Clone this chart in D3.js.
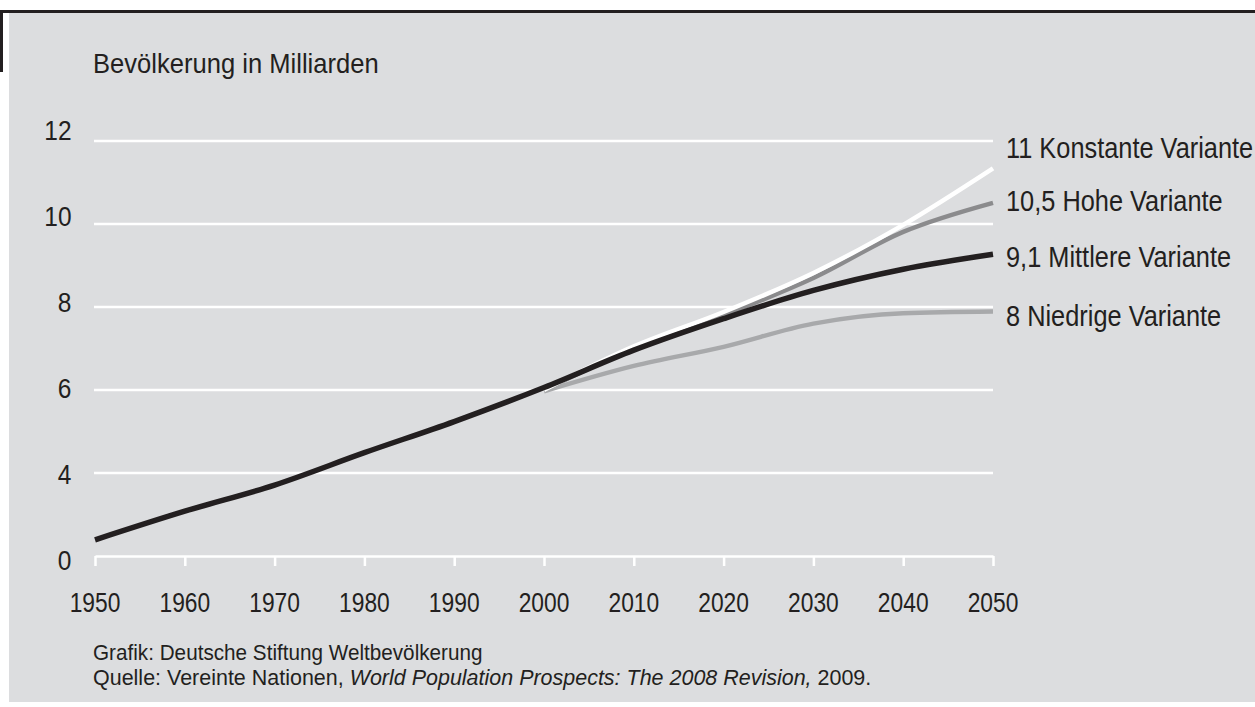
<!DOCTYPE html>
<html>
<head>
<meta charset="utf-8">
<script src="https://cdn.jsdelivr.net/npm/d3@7/dist/d3.min.js"></script>
<style>
  html, body { margin: 0; padding: 0; background: #fff; }
  svg { display: block; }
  text { font-family: "Liberation Sans", Arial, sans-serif; fill: #231f20; }
</style>
</head>
<body>
<svg id="chart" width="1255" height="707"></svg>
<script>
// ---- data ----
const histYears = [1950, 1960, 1970, 1980, 1990, 2000, 2010, 2020, 2030, 2040, 2050];
const mittlere  = [2.39, 3.08, 3.71, 4.49, 5.24, 6.06, 6.96, 7.72, 8.40, 8.91, 9.27];
const projYears = [2000, 2010, 2020, 2030, 2040, 2050];
const konstante = [6.00, 7.05, 7.88, 8.82, 9.98, 11.34];
const hohe      = [6.00, 7.00, 7.80, 8.70, 9.81, 10.51];
const niedrige  = [5.97, 6.58, 7.04, 7.60, 7.85, 7.89];
const seriesNames = ["11 Konstante Variante", "10,5 Hohe Variante", "9,1 Mittlere Variante", "8 Niedrige Variante"];
const xTicks = [1950, 1960, 1970, 1980, 1990, 2000, 2010, 2020, 2030, 2040, 2050];
const yTickValues = [2, 4, 6, 8, 10, 12];
const yTickLabels = ["0", "4", "6", "8", "10", "12"];
const yTitle = "Bevölkerung in Milliarden";
const credit = "Grafik: Deutsche Stiftung Weltbevölkerung";
const sourcePre = "Quelle: Vereinte Nationen, ";
const sourceItalic = "World Population Prospects: The 2008 Revision,";
const sourcePost = " 2009.";

// ---- layout ----
const W = 1255, H = 707;
const dark = "#231f20";
const svg = d3.select("#chart");

svg.append("rect").attr("width", W).attr("height", H).attr("fill", "#fff");
svg.append("rect").attr("x", 9).attr("y", 13).attr("width", W - 9).attr("height", 689).attr("fill", "#dcdddf");
svg.append("rect").attr("x", 0).attr("y", 10).attr("width", W).attr("height", 3).attr("fill", dark);
svg.append("rect").attr("x", 0).attr("y", 10).attr("width", 3).attr("height", 62).attr("fill", dark);

const x = d3.scaleLinear().domain([1950, 2050]).range([95, 993]);
const y = d3.scaleLinear().domain([2, 12]).range([556, 141]);
// label positions of the printed y tick labels (slightly different spacing in original)
const yLab = d3.scaleLinear().domain([2, 12]).range([570, 140]);

function label(parent, px, py, str, size, sx, anchor) {
  return parent.append("text")
    .attr("transform", `translate(${px},${py}) scale(${sx},1)`)
    .attr("text-anchor", anchor || "start")
    .attr("font-size", size)
    .text(str);
}

// gridlines
const gridVals = yTickValues.filter(v => v > 2);
svg.append("g").selectAll("line").data(gridVals).join("line")
  .attr("x1", 94).attr("x2", 993)
  .attr("y1", d => y(d)).attr("y2", d => y(d))
  .attr("stroke", "#fff").attr("stroke-width", 2.5);

// x axis
const xAxis = svg.append("g").attr("transform", `translate(0,${y(2)})`)
  .call(d3.axisBottom(x).tickValues(xTicks).tickSize(10).tickSizeOuter(0).tickFormat(""));
xAxis.select(".domain").attr("stroke", "#fff").attr("stroke-width", 2.5);
xAxis.selectAll(".tick line").attr("stroke", "#fff").attr("stroke-width", 2.5);

// x labels
const xl = svg.append("g");
xTicks.forEach(t => label(xl, x(t), 612, String(t), 28.5, 0.80, "middle"));

// y labels
const yl = svg.append("g");
yTickValues.forEach((v, i) => label(yl, 71.5, yLab(v), yTickLabels[i], 28.5, 0.86, "end"));

// title
label(svg, 93, 73, yTitle, 27.5, 0.93, "start");

// lines
const line = d3.line().x(d => x(d[0])).y(d => y(d[1])).curve(d3.curveMonotoneX);
const zip = (xs, vs) => xs.map((t, i) => [t, vs[i]]);
const series = [
  { vals: zip(projYears, niedrige), color: "#a8a9ab", w: 4.5 },
  { vals: zip(projYears, hohe), color: "#8b8b8d", w: 4.5 },
  { vals: zip(projYears, konstante), color: "#ffffff", w: 4.5 },
  { vals: zip(histYears, mittlere), color: dark, w: 5.5 }
];
svg.append("g").selectAll("path").data(series).join("path")
  .attr("d", d => line(d.vals))
  .attr("fill", "none")
  .attr("stroke", d => d.color)
  .attr("stroke-width", d => d.w)
  .attr("stroke-linecap", "butt");

// series labels (positioned from line end values, nudged to avoid overlaps)
const ends = [konstante[konstante.length - 1], hohe[hohe.length - 1], mittlere[mittlere.length - 1], niedrige[niedrige.length - 1]];
const nudges = [-10, 8, 13, 14];
const sl = svg.append("g");
seriesNames.forEach((n, i) => label(sl, 1006, y(ends[i]) + nudges[i], n, 29.5, 0.86, "start"));

// footnotes
label(svg, 93, 660, credit, 22.5, 0.92, "start");
const src = svg.append("text")
  .attr("transform", `translate(93,685) scale(0.955,1)`)
  .attr("font-size", 22.5);
src.append("tspan").text(sourcePre);
src.append("tspan").attr("font-style", "italic").text(sourceItalic);
src.append("tspan").text(sourcePost);
</script>
</body>
</html>
